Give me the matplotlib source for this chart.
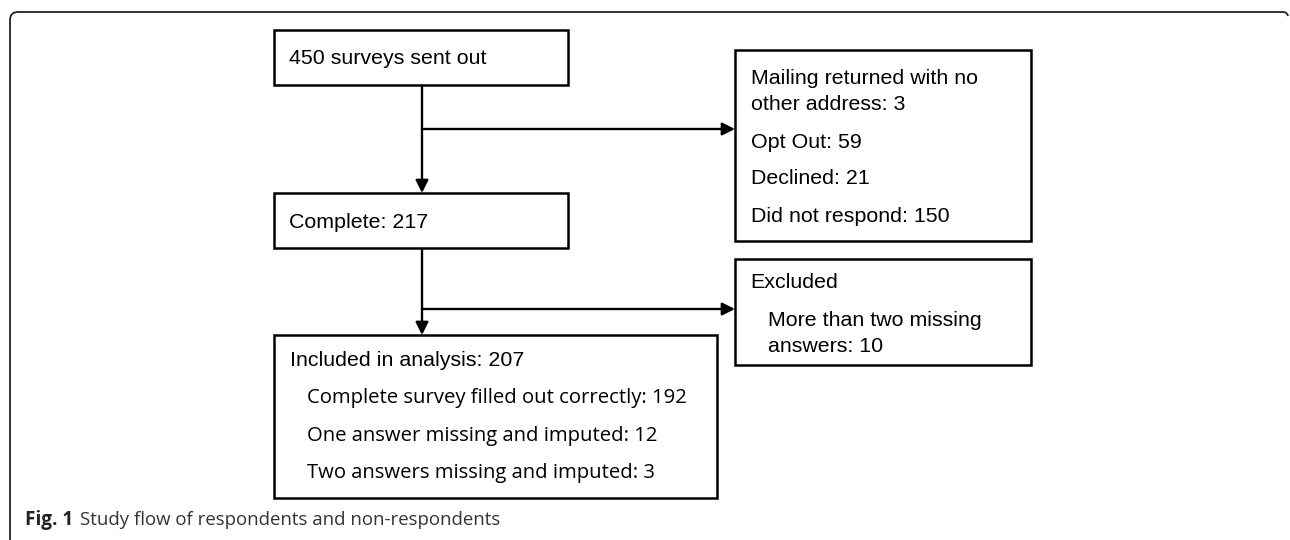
import matplotlib.pyplot as plt
from matplotlib.patches import Rectangle, FancyArrowPatch, PathPatch
from matplotlib.path import Path

# flow numbers
sent_out = 450
complete = 217
nonresp_labels = ["Mailing returned with no\nother address", "Opt Out", "Declined", "Did not respond"]
nonresp_counts = [3, 59, 21, 150]
excluded_labels = ["More than two missing\nanswers"]
excluded_counts = [10]
included = 207
included_labels = ["Complete survey filled out correctly", "One answer missing and imputed",
                   "Two answers missing and imputed"]
included_counts = [192, 12, 3]

ARIAL = ['Liberation Sans', 'DejaVu Sans']
HUMAN = ['Open Sans', 'Noto Sans', 'DejaVu Sans']

fig = plt.figure(figsize=(12.9, 5.4), dpi=100)
ax = fig.add_axes([0, 0, 1, 1])
ax.set_xlim(0, 1290)
ax.set_ylim(540, 0)
ax.axis('off')

# outer frame, rounded top-left, open at right/bottom
verts = [(10, 540), (10, 20), (10, 12), (18, 12), (1283, 12), (1287, 12), (1288, 16)]
codes = [Path.MOVETO, Path.LINETO, Path.CURVE3, Path.CURVE3, Path.LINETO, Path.CURVE3, Path.CURVE3]
ax.add_patch(PathPatch(Path(verts, codes), fill=False, lw=1.3, ec='#222222'))


def box(x0, y0, x1, y1):
    ax.add_patch(Rectangle((x0, y0), x1 - x0, y1 - y0, fill=False, lw=1.8, ec='black'))


def arrow(p0, p1):
    ax.add_patch(FancyArrowPatch(p0, p1, arrowstyle='-|>', mutation_scale=19,
                                 lw=1.7, color='black', shrinkA=0, shrinkB=0))


def line(p0, p1):
    ax.plot([p0[0], p1[0]], [p0[1], p1[1]], color='black', lw=1.7, solid_capstyle='butt')


def lines_at(x, y, s, step, **kw):
    # draws a multi-line label one row at a time, y is the first row
    for k, row in enumerate(s.split("\n")):
        ax.text(x, y + k * step, row, va='center', **kw)


fs = 15.4
xc = 422

# boxes
box(274, 30, 568, 85)
ax.text(289, 58, f"{sent_out} surveys sent out", family=ARIAL, fontsize=fs, va='center')

box(274, 193, 568, 248)
ax.text(289, 222, f"Complete: {complete}", family=ARIAL, fontsize=fs, va='center')

box(735, 50, 1031, 241)
ys = [78, 142, 179, 217]
for lab, n, y in zip(nonresp_labels, nonresp_counts, ys):
    lines_at(751, y, f"{lab}: {n}", 26, family=ARIAL, fontsize=fs)

box(735, 259, 1031, 365)
ax.text(750, 282, "Excluded", family=ARIAL, fontsize=fs, va='center')
for lab, n in zip(excluded_labels, excluded_counts):
    lines_at(768, 320, f"{lab}: {n}", 26, family=ARIAL, fontsize=fs)

box(274, 335, 717, 498)
ax.text(290, 360, f"Included in analysis: {included}", family=ARIAL, fontsize=fs, va='center')
for i, (lab, n) in enumerate(zip(included_labels, included_counts)):
    ax.text(307, 398 + i * 37.5, f"{lab}: {n}", family=HUMAN, fontsize=14.6, va='center')

# connectors
line((xc, 85), (xc, 129))
arrow((xc, 129), (xc, 193))
arrow((xc, 129), (735, 129))
line((xc, 248), (xc, 309))
arrow((xc, 309), (xc, 335))
arrow((xc, 309), (735, 309))

# caption
ax.text(25, 520, "Fig. 1", family=HUMAN, fontsize=13.6, fontweight='bold', va='center', color='#222222')
ax.text(80, 520, "Study flow of respondents and non-respondents", family=HUMAN, fontsize=13.4,
        va='center', color='#333333')

plt.savefig("out.png", dpi=100)
plt.close()
